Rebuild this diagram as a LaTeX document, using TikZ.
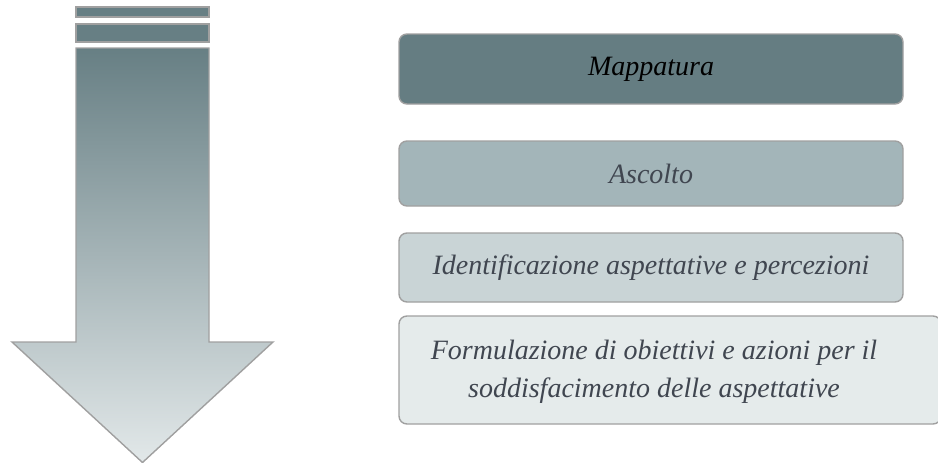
\documentclass[tikz,border=0pt]{standalone}
\usepackage{fontspec}
\setmainfont{Liberation Serif}
\definecolor{cA}{RGB}{101,125,130}
\definecolor{cB}{RGB}{163,181,185}
\definecolor{cC}{RGB}{201,212,214}
\definecolor{cD}{RGB}{229,235,235}
\definecolor{edge}{RGB}{160,160,160}
\definecolor{txt}{RGB}{64,70,80}
\definecolor{arrtop}{RGB}{103,127,132}
\definecolor{arrbot}{RGB}{226,232,233}
\tikzset{
  stepbox/.style={draw=edge, line width=1.4pt, rounded corners=8pt, inner sep=0pt,
    font=\fontsize{28}{38}\selectfont\itshape, align=center, text=txt},
  steptext/.style={inner sep=0pt, font=\fontsize{28}{38}\selectfont\itshape, align=center, text=txt},
  stripe/.style={draw=edge, line width=1.4pt, fill=arrtop}
}
\begin{document}
\begin{tikzpicture}[x=1pt,y=-1pt]
\useasboundingbox (0,0) rectangle (938,463);
% stripes
\path[stripe] (76,7) rectangle (209,17);
\path[stripe] (76,24) rectangle (209,42);
% arrow
\path[draw=edge, line width=1.4pt, top color=arrtop, bottom color=arrbot]
  (76,48) -- (209,48) -- (209,342) -- (273,342) -- (142.5,462.5) -- (12,342) -- (76,342) -- cycle;
% boxes
\node[stepbox, fill=cA, text=black, minimum width=504pt, minimum height=70pt] (m) at (651,69) {Mappatura};
\node[stepbox, fill=cB, minimum width=504pt, minimum height=65pt] (a) at (651,173.5) {Ascolto};
\node[stepbox, fill=cC, minimum width=504pt, minimum height=69pt] (i) at (651,267.5) {Identificazione aspettative e percezioni};
\node[stepbox, fill=cD, minimum width=542pt, minimum height=108pt] (f) at (670,370) {};
\node[steptext] (ft) at (654,372) {Formulazione di obiettivi e azioni per il\\soddisfacimento delle aspettative};
\end{tikzpicture}
\end{document}
